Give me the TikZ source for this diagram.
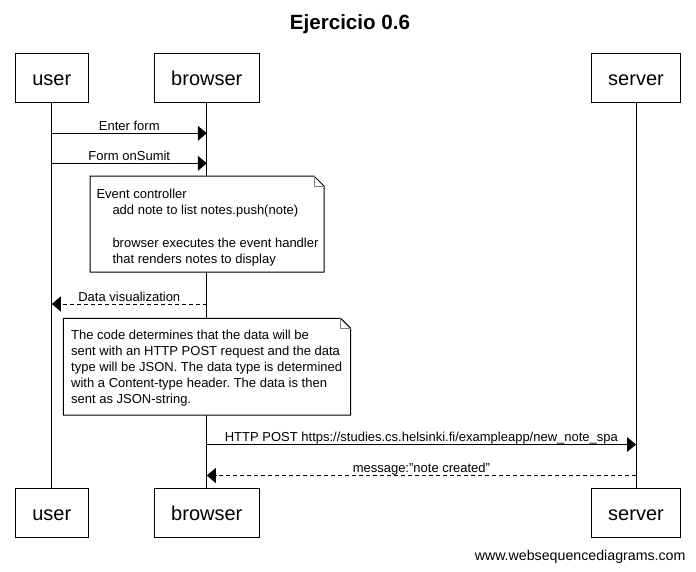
\documentclass[tikz,border=0pt]{standalone}
\usepackage{fontspec}
\setmainfont{Liberation Sans}
\usetikzlibrary{arrows.meta,positioning,calc}
\frenchspacing

\tikzset{
    actor/.style={draw, fill=white, minimum height=49pt, inner sep=0pt, text height=19.4pt, text depth=4pt, font=\fontsize{20}{24}\selectfont},
    msg/.style={-{Triangle[length=9pt,width=15pt]}},
    reply/.style={msg, dash pattern=on 4pt off 3pt},
    lbl/.style={anchor=base, yshift=3pt, inner sep=0pt, font=\fontsize{13}{16}\selectfont},
    notetext/.style={anchor=north west, inner sep=0pt, align=left, font=\fontsize{13}{16.2}\selectfont},
    notebox/.style={draw, fill=white},
}

% folded note: x1 y1 x2 y2
\newcommand{\dognote}[4]{%
    \draw[notebox] (#1,#2) -- (#3-10,#2) -- (#3,#2+10) -- (#3,#4) -- (#1,#4) -- cycle;
    \draw[gray] (#3-10,#2) -- (#3-10,#2+10) -- (#3,#2+10);
}

\begin{document}
\begin{tikzpicture}[x=1pt, y=-1pt, line width=1pt]
    \useasboundingbox (0,0) rectangle (696,571);

    % title
    \node[font=\fontsize{20.6}{25}\selectfont\bfseries, anchor=base] (title) at (350,29) {Ejercicio 0.6};

    % participants
    \node[actor, minimum width=73pt]   (top-user)    at (51.8,77.8)  {user};
    \node[actor, minimum width=105pt]  (top-browser) at (206.8,77.8) {browser};
    \node[actor, minimum width=89.4pt] (top-server)  at (636,77.8)   {server};
    \node[actor, minimum width=73pt]   (bot-user)    at (51.8,512.8)  {user};
    \node[actor, minimum width=105pt]  (bot-browser) at (206.8,512.8) {browser};
    \node[actor, minimum width=89.4pt] (bot-server)  at (636,512.8)   {server};

    % lifelines
    \foreach \p in {user,browser,server}
        \draw (top-\p.south) -- (bot-\p.north);

    % rows
    \coordinate (r1) at (0,133.3);
    \coordinate (r2) at (0,163.3);
    \coordinate (r3) at (0,304);
    \coordinate (r4) at (0,444.5);
    \coordinate (r5) at (0,475.5);

    \draw[msg] (top-user |- r1) -- node[lbl] {Enter form} (top-browser |- r1);
    \draw[msg] (top-user |- r2) -- node[lbl] {Form onSumit} (top-browser |- r2);

    % note over browser
    \dognote{90}{176}{324}{272}
    \node[notetext] (note1) at (96,188.6) {Event controller\\
        \hspace*{16pt}add note to list notes.push(note)\\[16.2pt]
        \hspace*{16pt}browser executes the event handler\\
        \hspace*{16pt}that renders notes to display};

    \draw[reply] (top-browser |- r3) -- node[lbl] {Data visualization} (top-user |- r3);

    % note over user and browser
    \dognote{63.3}{318.3}{350.7}{415}
    \node[notetext] (note2) at (70.7,329.2) {The code determines that the data will be\\
        sent with an HTTP POST request and the data\\
        type will be JSON. The data type is determined\\
        with a Content-type header. The data is then\\
        sent as JSON-string.};

    \draw[msg] (top-browser |- r4) -- node[lbl] {HTTP POST https://studies.cs.helsinki.fi/exampleapp/new\_note\_spa} (top-server |- r4);
    \draw[reply] (top-server |- r5) -- node[lbl] {message:"note created"} (top-browser |- r5);

    % watermark
    \node[font=\fontsize{14.2}{17}\selectfont, anchor=base east, inner sep=0pt] (wsd) at (686,560) {www.websequencediagrams.com};
\end{tikzpicture}
\end{document}
